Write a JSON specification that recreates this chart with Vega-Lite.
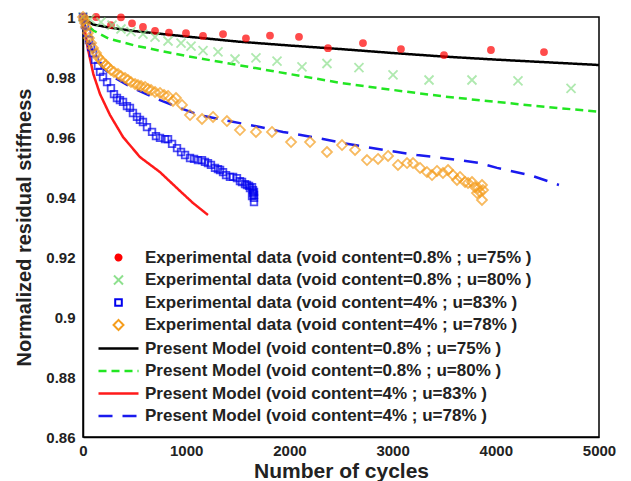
{
  "$schema": "https://vega.github.io/schema/vega-lite/v6.json",
  "width": 516,
  "height": 420,
  "autosize": "none",
  "padding": {"left": 83, "top": 17, "right": 32, "bottom": 44},
  "background": "white",
  "config": {
    "view": {"stroke": "#000000", "strokeWidth": 1.5},
    "font": "Liberation Sans",
    "axis": {"grid": false, "domainColor": "#000000", "domainWidth": 1.5, "ticks": false, "labelFont": "Liberation Sans", "labelFontWeight": "bold", "labelFontSize": 15, "labelColor": "#222222", "titleFont": "Liberation Sans", "titleFontWeight": "bold", "titleFontSize": 20, "titleColor": "#222222"},
    "legend": {"labelFont": "Liberation Sans", "labelFontWeight": "bold", "labelFontSize": 17, "labelColor": "#222222", "labelLimit": 600, "symbolSize": 400, "symbolStrokeWidth": 2, "labelOffset": 18, "rowPadding": 4.5}
  },
  "data": {"values": [
    {"s":"E1","x":10,"y":1.0},{"s":"E1","x":126,"y":1.0},{"s":"E1","x":271,"y":0.9973},{"s":"E1","x":368,"y":0.9999},{"s":"E1","x":475,"y":0.9979},{"s":"E1","x":581,"y":0.9967},{"s":"E1","x":698,"y":0.9954},{"s":"E1","x":833,"y":0.9948},{"s":"E1","x":998,"y":0.9946},{"s":"E1","x":1163,"y":0.9937},{"s":"E1","x":1357,"y":0.9943},{"s":"E1","x":1579,"y":0.9929},{"s":"E1","x":1812,"y":0.9938},{"s":"E1","x":2093,"y":0.9934},{"s":"E1","x":2374,"y":0.9896},{"s":"E1","x":2713,"y":0.9913},{"s":"E1","x":3081,"y":0.9893},{"s":"E1","x":3498,"y":0.9873},{"s":"E1","x":3953,"y":0.989},{"s":"E1","x":4467,"y":0.9883},

    {"s":"E2","x":0,"y":1.0},{"s":"E2","x":68,"y":0.9993},{"s":"E2","x":174,"y":0.9983},{"s":"E2","x":281,"y":0.9973},{"s":"E2","x":368,"y":0.996},{"s":"E2","x":465,"y":0.9951},{"s":"E2","x":581,"y":0.9943},{"s":"E2","x":698,"y":0.9933},{"s":"E2","x":824,"y":0.992},{"s":"E2","x":950,"y":0.9913},{"s":"E2","x":1047,"y":0.9903},{"s":"E2","x":1163,"y":0.9888},{"s":"E2","x":1308,"y":0.9884},{"s":"E2","x":1473,"y":0.986},{"s":"E2","x":1676,"y":0.9864},{"s":"E2","x":1880,"y":0.9853},{"s":"E2","x":2122,"y":0.9834},{"s":"E2","x":2364,"y":0.9845},{"s":"E2","x":2674,"y":0.9831},{"s":"E2","x":3004,"y":0.9807},{"s":"E2","x":3353,"y":0.979},{"s":"E2","x":3769,"y":0.979},{"s":"E2","x":4215,"y":0.9787},{"s":"E2","x":4729,"y":0.9762},

    {"s":"E3","x":0,"y":1.0},{"s":"E3","x":19,"y":0.9973},{"s":"E3","x":39,"y":0.9947},{"s":"E3","x":58,"y":0.9923},{"s":"E3","x":78,"y":0.99},{"s":"E3","x":97,"y":0.988},{"s":"E3","x":116,"y":0.9857},{"s":"E3","x":145,"y":0.9837},{"s":"E3","x":165,"y":0.9817},{"s":"E3","x":194,"y":0.98},{"s":"E3","x":233,"y":0.9783},{"s":"E3","x":271,"y":0.9763},{"s":"E3","x":300,"y":0.9743},{"s":"E3","x":329,"y":0.973},{"s":"E3","x":358,"y":0.9723},{"s":"E3","x":388,"y":0.9717},{"s":"E3","x":426,"y":0.9703},{"s":"E3","x":455,"y":0.9697},{"s":"E3","x":484,"y":0.968},{"s":"E3","x":523,"y":0.9667},{"s":"E3","x":552,"y":0.9657},{"s":"E3","x":581,"y":0.965},{"s":"E3","x":620,"y":0.9633},{"s":"E3","x":669,"y":0.9617},{"s":"E3","x":707,"y":0.9603},{"s":"E3","x":746,"y":0.9597},{"s":"E3","x":795,"y":0.9593},{"s":"E3","x":824,"y":0.9593},{"s":"E3","x":863,"y":0.9577},{"s":"E3","x":911,"y":0.9563},{"s":"E3","x":950,"y":0.955},{"s":"E3","x":989,"y":0.954},{"s":"E3","x":1037,"y":0.953},{"s":"E3","x":1076,"y":0.9527},{"s":"E3","x":1114,"y":0.9523},{"s":"E3","x":1153,"y":0.9523},{"s":"E3","x":1182,"y":0.9517},{"s":"E3","x":1211,"y":0.9513},{"s":"E3","x":1240,"y":0.9507},{"s":"E3","x":1279,"y":0.9497},{"s":"E3","x":1308,"y":0.9493},{"s":"E3","x":1328,"y":0.949},{"s":"E3","x":1357,"y":0.9483},{"s":"E3","x":1386,"y":0.9473},{"s":"E3","x":1424,"y":0.9467},{"s":"E3","x":1454,"y":0.9467},{"s":"E3","x":1492,"y":0.9463},{"s":"E3","x":1521,"y":0.9453},{"s":"E3","x":1541,"y":0.945},{"s":"E3","x":1570,"y":0.9443},{"s":"E3","x":1589,"y":0.944},{"s":"E3","x":1609,"y":0.9437},{"s":"E3","x":1618,"y":0.943},{"s":"E3","x":1638,"y":0.9433},{"s":"E3","x":1647,"y":0.9423},{"s":"E3","x":1657,"y":0.9417},{"s":"E3","x":1647,"y":0.9413},{"s":"E3","x":1657,"y":0.9407},{"s":"E3","x":1638,"y":0.9403},{"s":"E3","x":1657,"y":0.9397},{"s":"E3","x":1657,"y":0.9383},

    {"s":"E4","x":0,"y":1.0},{"s":"E4","x":10,"y":0.999},{"s":"E4","x":19,"y":0.998},{"s":"E4","x":29,"y":0.9967},{"s":"E4","x":48,"y":0.9947},{"s":"E4","x":58,"y":0.993},{"s":"E4","x":78,"y":0.9913},{"s":"E4","x":97,"y":0.9897},{"s":"E4","x":126,"y":0.988},{"s":"E4","x":145,"y":0.9867},{"s":"E4","x":174,"y":0.9857},{"s":"E4","x":194,"y":0.9847},{"s":"E4","x":223,"y":0.984},{"s":"E4","x":242,"y":0.9833},{"s":"E4","x":271,"y":0.9823},{"s":"E4","x":300,"y":0.9817},{"s":"E4","x":339,"y":0.981},{"s":"E4","x":368,"y":0.9803},{"s":"E4","x":407,"y":0.9797},{"s":"E4","x":436,"y":0.979},{"s":"E4","x":465,"y":0.9783},{"s":"E4","x":504,"y":0.9777},{"s":"E4","x":533,"y":0.9773},{"s":"E4","x":562,"y":0.977},{"s":"E4","x":601,"y":0.9767},{"s":"E4","x":630,"y":0.976},{"s":"E4","x":659,"y":0.9757},{"s":"E4","x":698,"y":0.975},{"s":"E4","x":746,"y":0.9747},{"s":"E4","x":785,"y":0.974},{"s":"E4","x":824,"y":0.9737},{"s":"E4","x":872,"y":0.972},{"s":"E4","x":901,"y":0.973},{"s":"E4","x":959,"y":0.9707},{"s":"E4","x":1037,"y":0.9673},{"s":"E4","x":1153,"y":0.966},{"s":"E4","x":1260,"y":0.9667},{"s":"E4","x":1395,"y":0.9653},{"s":"E4","x":1521,"y":0.9623},{"s":"E4","x":1676,"y":0.9617},{"s":"E4","x":1831,"y":0.9617},{"s":"E4","x":2016,"y":0.9583},{"s":"E4","x":2200,"y":0.9583},{"s":"E4","x":2364,"y":0.955},{"s":"E4","x":2510,"y":0.9573},{"s":"E4","x":2636,"y":0.9557},{"s":"E4","x":2752,"y":0.9523},{"s":"E4","x":2859,"y":0.9527},{"s":"E4","x":2956,"y":0.9537},{"s":"E4","x":3052,"y":0.9507},{"s":"E4","x":3140,"y":0.9513},{"s":"E4","x":3198,"y":0.9513},{"s":"E4","x":3266,"y":0.9497},{"s":"E4","x":3333,"y":0.9483},{"s":"E4","x":3382,"y":0.9473},{"s":"E4","x":3430,"y":0.9487},{"s":"E4","x":3488,"y":0.948},{"s":"E4","x":3537,"y":0.949},{"s":"E4","x":3585,"y":0.9473},{"s":"E4","x":3624,"y":0.9457},{"s":"E4","x":3653,"y":0.9467},{"s":"E4","x":3702,"y":0.945},{"s":"E4","x":3731,"y":0.9447},{"s":"E4","x":3769,"y":0.945},{"s":"E4","x":3798,"y":0.9433},{"s":"E4","x":3828,"y":0.943},{"s":"E4","x":3847,"y":0.9417},{"s":"E4","x":3866,"y":0.944},{"s":"E4","x":3818,"y":0.9413},{"s":"E4","x":3876,"y":0.9423},{"s":"E4","x":3866,"y":0.939},

    {"s":"M1","x":0,"y":1.0},{"s":"M1","x":50,"y":0.9985},{"s":"M1","x":100,"y":0.9975},{"s":"M1","x":250,"y":0.9965},{"s":"M1","x":500,"y":0.9953},{"s":"M1","x":1000,"y":0.9935},{"s":"M1","x":1500,"y":0.9918},{"s":"M1","x":2000,"y":0.9905},{"s":"M1","x":2500,"y":0.9893},{"s":"M1","x":3000,"y":0.988},{"s":"M1","x":3500,"y":0.9868},{"s":"M1","x":4000,"y":0.9858},{"s":"M1","x":4500,"y":0.9849},{"s":"M1","x":5000,"y":0.984},

    {"s":"M2","x":0,"y":1.0},{"s":"M2","x":50,"y":0.997},{"s":"M2","x":100,"y":0.9955},{"s":"M2","x":250,"y":0.9928},{"s":"M2","x":500,"y":0.9905},{"s":"M2","x":1000,"y":0.987},{"s":"M2","x":1500,"y":0.984},{"s":"M2","x":2000,"y":0.981},{"s":"M2","x":2500,"y":0.978},{"s":"M2","x":3000,"y":0.9757},{"s":"M2","x":3500,"y":0.9735},{"s":"M2","x":4000,"y":0.9717},{"s":"M2","x":4500,"y":0.97},{"s":"M2","x":5000,"y":0.9684},

    {"s":"M3","x":0,"y":1.0},{"s":"M3","x":20,"y":0.995},{"s":"M3","x":50,"y":0.989},{"s":"M3","x":100,"y":0.981},{"s":"M3","x":165,"y":0.9743},{"s":"M3","x":262,"y":0.9673},{"s":"M3","x":388,"y":0.96},{"s":"M3","x":552,"y":0.9533},{"s":"M3","x":746,"y":0.9483},{"s":"M3","x":940,"y":0.942},{"s":"M3","x":1066,"y":0.938},{"s":"M3","x":1211,"y":0.934},

    {"s":"M4","x":0,"y":1.0},{"s":"M4","x":29,"y":0.9957},{"s":"M4","x":68,"y":0.9907},{"s":"M4","x":116,"y":0.9867},{"s":"M4","x":194,"y":0.983},{"s":"M4","x":310,"y":0.9797},{"s":"M4","x":484,"y":0.9763},{"s":"M4","x":746,"y":0.9723},{"s":"M4","x":969,"y":0.9693},{"s":"M4","x":1134,"y":0.9673},{"s":"M4","x":1357,"y":0.9657},{"s":"M4","x":1570,"y":0.9643},{"s":"M4","x":1715,"y":0.9633},{"s":"M4","x":1938,"y":0.9617},{"s":"M4","x":2267,"y":0.9597},{"s":"M4","x":2519,"y":0.958},{"s":"M4","x":2907,"y":0.9557},{"s":"M4","x":3237,"y":0.954},{"s":"M4","x":3556,"y":0.9527},{"s":"M4","x":3847,"y":0.9513},{"s":"M4","x":4012,"y":0.9497},{"s":"M4","x":4331,"y":0.9473},{"s":"M4","x":4612,"y":0.944}
  ]},
  "encoding": {
    "x": {"field": "x", "type": "quantitative", "scale": {"domain": [0, 5000], "nice": false}, "axis": {"values": [0, 1000, 2000, 3000, 4000, 5000], "format": "d", "title": "Number of cycles", "labelPadding": 6, "titlePadding": 2, "titleFontSize": 21, "labelFlush": false}},
    "y": {"field": "y", "type": "quantitative", "scale": {"domain": [0.86, 1], "nice": false, "zero": false}, "axis": {"values": [0.86, 0.88, 0.9, 0.92, 0.94, 0.96, 0.98, 1], "format": "~f", "title": "Normalized residual stiffness", "labelPadding": 8, "titlePadding": 11, "titleFontSize": 20, "labelFlush": false}},
    "stroke": {"field": "s", "type": "nominal", "scale": {"domain": ["E1","E2","E3","E4","M1","M2","M3","M4"], "range": ["#ff0000","#8ee08e","#0000ee","#f59d1c","#000000","#22e622","#ff1a1a","#1a1aee"]},
      "legend": {"title": null, "orient": "none", "legendX": 27, "legendY": 232,
        "symbolType": "M-2,0H2",
        "labelExpr": "['Experimental data (void content=0.8% ; u=75% )','Experimental data (void content=0.8% ; u=80% )','Experimental data (void content=4% ; u=83% )','Experimental data (void content=4% ; u=78% )','Present Model (void content=0.8% ; u=75% )','Present Model (void content=0.8% ; u=80% )','Present Model (void content=4% ; u=83% )','Present Model (void content=4% ; u=78% )'][indexof(['E1','E2','E3','E4','M1','M2','M3','M4'], datum.label)]",
        "symbolOpacity": 1,
        "encode": {"symbols": {"update": {
          "shape": {"signal": "['M-0.35,0A0.35,0.35 0 1,0 0.35,0A0.35,0.35 0 1,0 -0.35,0Z','M-0.45,-0.45L0.45,0.45M-0.45,0.45L0.45,-0.45','M-0.3,-0.3H0.3V0.3H-0.3Z','M0,-0.45L0.45,0L0,0.45L-0.45,0Z','M-2,0H2','M-2,0H2','M-2,0H2','M-2,0H2'][indexof(['E1','E2','E3','E4','M1','M2','M3','M4'], datum.value)]"},
          "fill": {"signal": "datum.value === 'E1' ? '#ff0000' : 'transparent'"},
          "strokeDash": {"signal": "datum.value === 'M2' ? [6,4] : (datum.value === 'M4' ? [11,9] : [1,0])"},
          "strokeWidth": {"signal": "indexof(['M1','M2','M3','M4'], datum.value) >= 0 ? 2.5 : 2"},
          "opacity": {"value": 1}
        }}}
      }
    }
  },
  "layer": [
    {
      "transform": [{"filter": "datum.s[0] === 'M'"}],
      "mark": {"type": "line", "strokeWidth": 2.5, "clip": true},
      "encoding": {
        "strokeDash": {"field": "s", "type": "nominal", "scale": {"domain": ["E1","E2","E3","E4","M1","M2","M3","M4"], "range": [[1,0],[1,0],[1,0],[1,0],[1,0],[8,5],[1,0],[14,10]]}, "legend": null}
      }
    },
    {
      "transform": [{"filter": "datum.s[0] === 'E'"}],
      "mark": {"type": "point", "filled": true, "size": 400, "strokeWidth": 1.8},
      "encoding": {
        "fill": {"field": "s", "type": "nominal", "scale": {"domain": ["E1","E2","E3","E4","M1","M2","M3","M4"], "range": ["#ff0000","transparent","transparent","transparent","transparent","transparent","transparent","transparent"]}, "legend": null},
        "shape": {"field": "s", "type": "nominal", "scale": {"domain": ["E1","E2","E3","E4","M1","M2","M3","M4"], "range": ["M-0.3,0A0.3,0.3 0 1,0 0.3,0A0.3,0.3 0 1,0 -0.3,0Z","M-0.45,-0.45L0.45,0.45M-0.45,0.45L0.45,-0.45","M-0.33,-0.33H0.33V0.33H-0.33Z","M0,-0.5L0.5,0L0,0.5L-0.5,0Z","M-2,0H2","M-2,0H2","M-2,0H2","M-2,0H2"]}, "legend": null}
      }
    }
  ]
}
